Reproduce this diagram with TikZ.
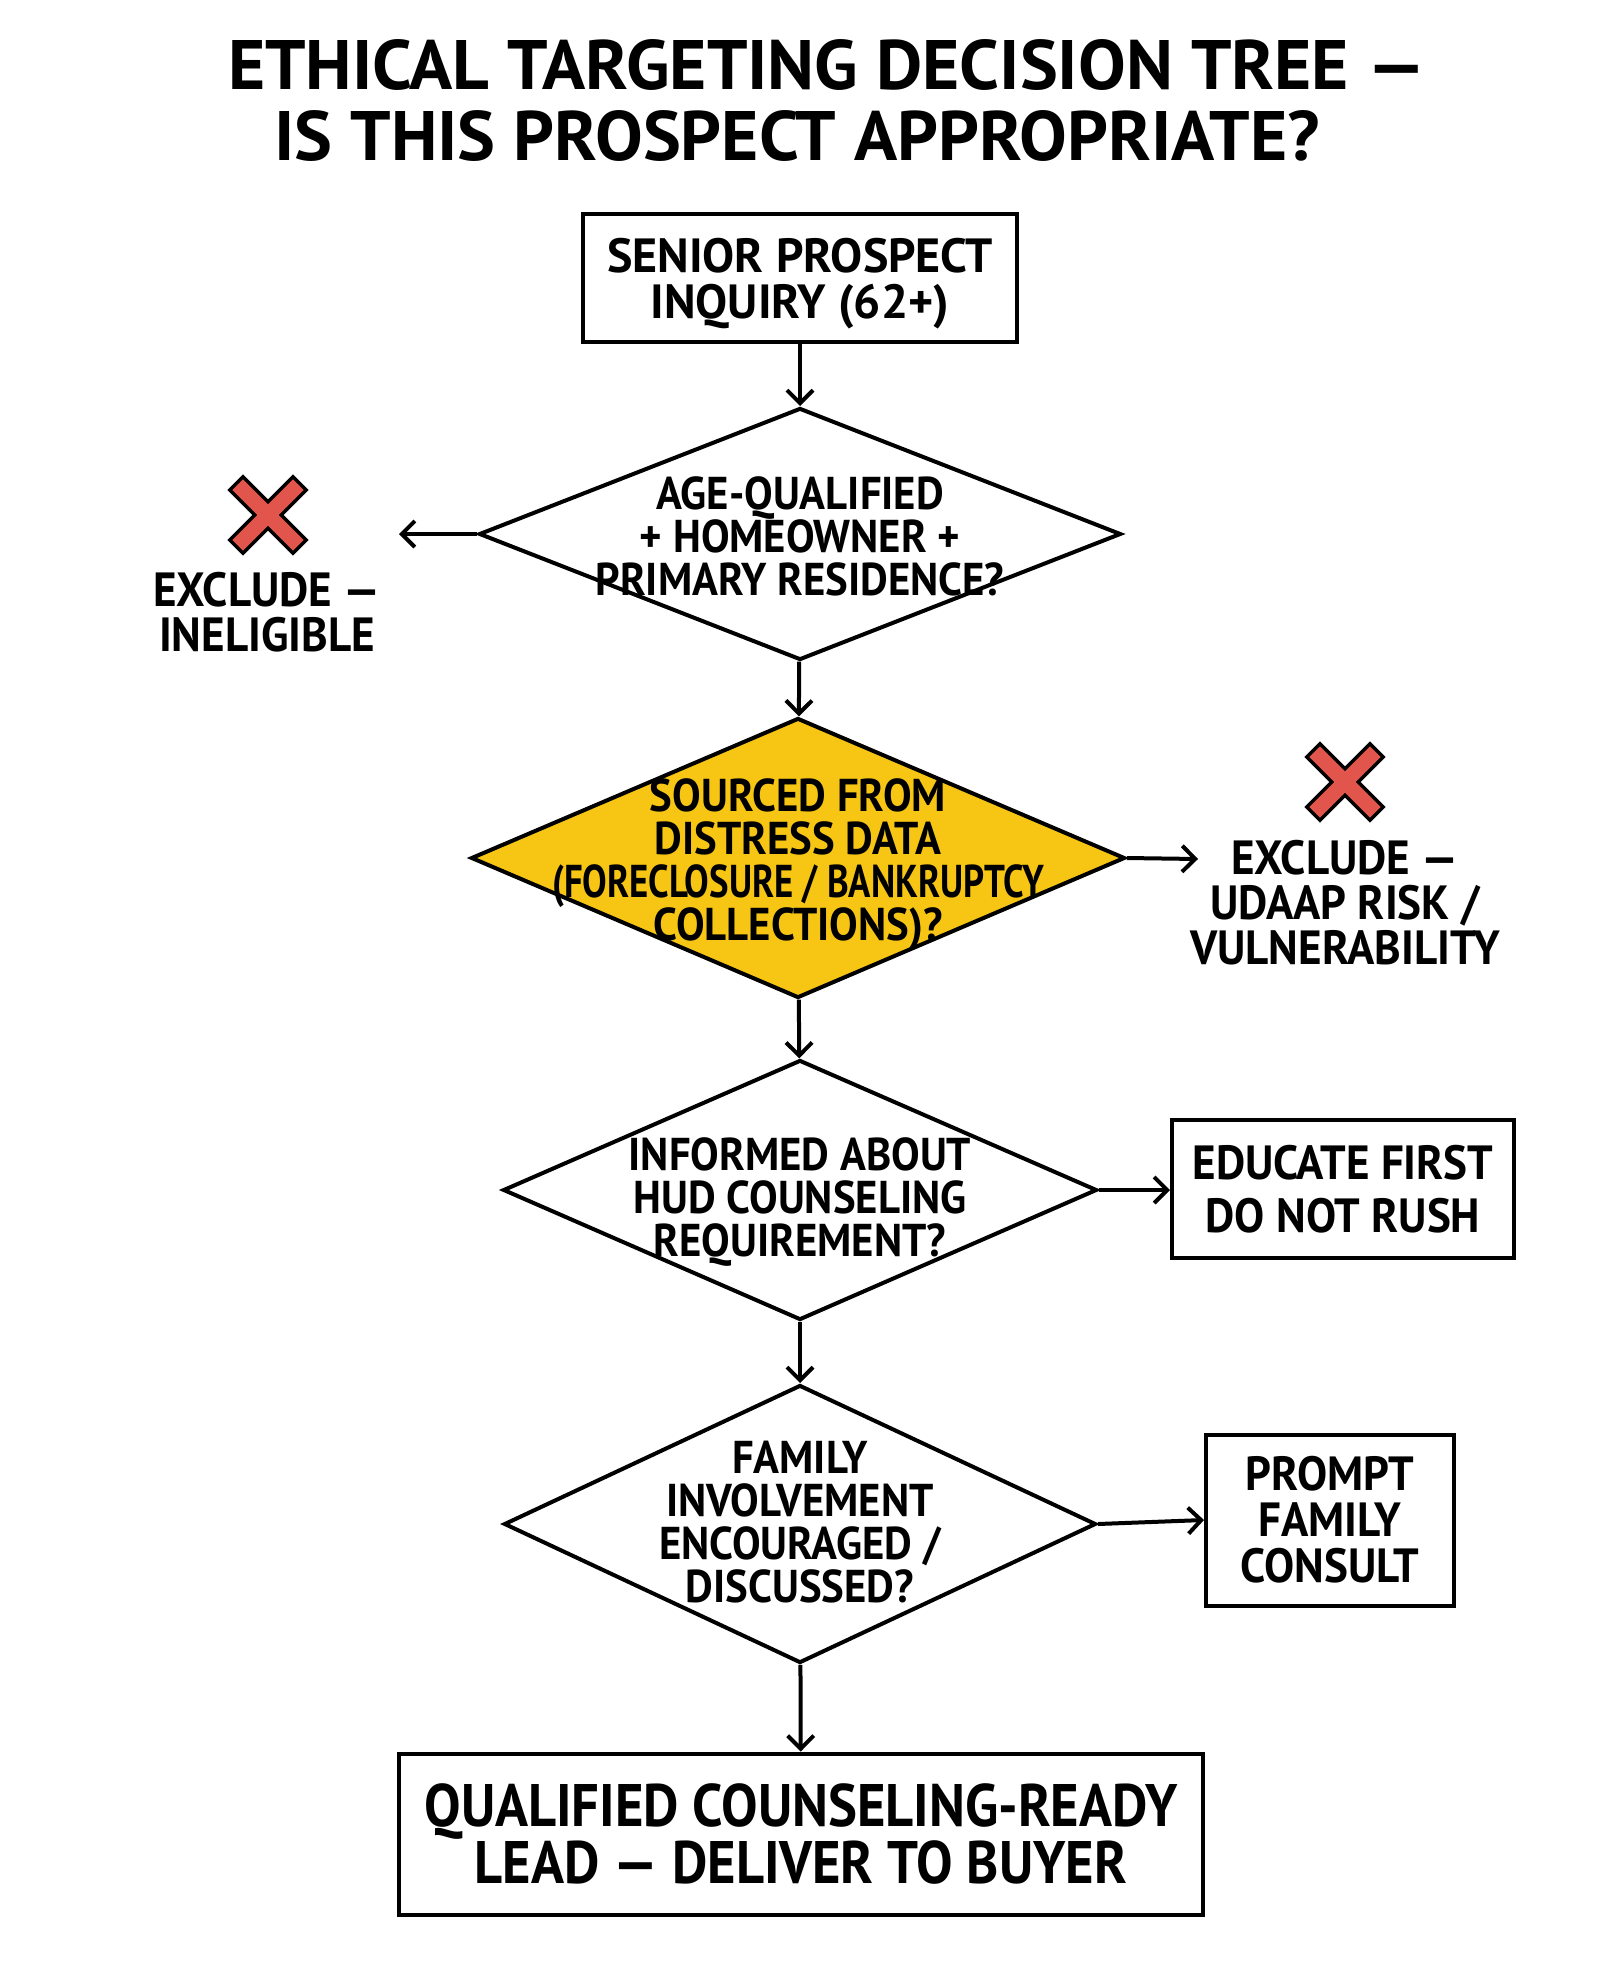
\documentclass[tikz,border=0pt]{standalone}
\usepackage{fontspec}
\setmainfont{PT Sans}
\newfontfamily\bodyfont{PT Sans}[FakeStretch=0.94]
\newfontfamily\finfont{PT Sans}[FakeStretch=0.91]
\newfontfamily\widefont{PT Sans}[FakeStretch=1.0]
\newfontfamily\diafont{PT Sans}[FakeStretch=0.93]
\newfontfamily\narrowfont{PT Sans}[FakeStretch=0.8]
\newfontfamily\titlefont{PT Sans}[FakeStretch=1.02]
\usetikzlibrary{shapes.geometric,arrows.meta}
\definecolor{gold}{HTML}{F7C614}
\definecolor{xred}{HTML}{E2554C}
\tikzset{
  lw/.style={line width=2pt},
  arr/.style={lw, -{Straight Barb[length=6.5pt,width=13pt,line width=2pt]}},
  box/.style={draw, lw, rectangle, inner sep=0pt, align=center,
              font=\bodyfont\bfseries\fontsize{24}{23}\selectfont},
  dia/.style={draw, lw, diamond, inner sep=0pt, fill=white},
  dtext/.style={align=center, inner sep=0pt,
              font=\diafont\bfseries\fontsize{23}{21.5}\selectfont},
  lab/.style={align=center, inner sep=0pt,
              font=\bodyfont\bfseries\fontsize{24}{22.5}\selectfont},
  ttl/.style={align=center, inner sep=0pt,
              font=\titlefont\bfseries\fontsize{35}{35.5}\selectfont},
  xmark/.pic={
    \draw[line width=11pt, line cap=rect, black] (-12.5,-12.5) -- (12.5,12.5) (-12.5,12.5) -- (12.5,-12.5);
    \draw[line width=7.5pt, line cap=rect, xred] (-12.5,-12.5) -- (12.5,12.5) (-12.5,12.5) -- (12.5,-12.5);
  }
}
\begin{document}
\begin{tikzpicture}[x=1pt,y=-1pt]
\useasboundingbox[fill=white] (0,0) rectangle (800,993);

\node[ttl] (title) at (398.5,50) {\hspace*{30pt}ETHICAL TARGETING DECISION TREE —\\IS THIS PROSPECT APPROPRIATE?};

\node[box, minimum width=217pt, minimum height=64pt, text depth=0pt,
      font=\widefont\bfseries\fontsize{24}{23}\selectfont] (b1) at (400,139) {SENIOR PROSPECT\\INQUIRY (62+)};

\node[dia, minimum width=321pt, minimum height=126pt] (d1) at (400,267) {};
\node[dtext] (d1t) at (400,268) {AGE-QUALIFIED\\+ HOMEOWNER +\\PRIMARY RESIDENCE?};

\node[dia, fill=gold, minimum width=327pt, minimum height=140pt] (d2) at (399,429) {};
\node[dtext] (d2t) at (399,432.5) {SOURCED FROM\\DISTRESS DATA\\{\narrowfont\bfseries (FORECLOSURE / BANKRUPTCY}\\COLLECTIONS)?};

\node[dia, minimum width=297pt, minimum height=130pt] (d3) at (400,595) {};
\node[dtext] (d3t) at (400,601) {INFORMED ABOUT\\HUD COUNSELING\\REQUIREMENT?};

\node[dia, minimum width=296pt, minimum height=139pt] (d4) at (400,762) {};
\node[dtext] (d4t) at (400,761) {FAMILY\\INVOLVEMENT\\ENCOURAGED /\\DISCUSSED?};

\node[box, minimum width=171pt, minimum height=69pt,
      font=\bodyfont\bfseries\fontsize{24}{26.5}\selectfont] (b3) at (671.5,594.5) {EDUCATE FIRST\\DO NOT RUSH};
\node[box, minimum width=124pt, minimum height=85.5pt] (b4) at (665,760) {PROMPT\\FAMILY\\CONSULT};
\node[box, minimum width=402pt, minimum height=80.5pt,
      font=\finfont\bfseries\fontsize{30}{28.5}\selectfont] (fin) at (400.5,917)
      {QUALIFIED COUNSELING-READY\\LEAD — DELIVER TO BUYER};

\pic at (134,257.5) {xmark};
\node[lab] (ex1) at (133.5,306) {EXCLUDE —\\INELIGIBLE};
\coordinate (e1) at (199.5,267);

\pic at (672.5,391) {xmark};
\node[lab] (ex2) at (672.5,451.5) {EXCLUDE —\\UDAAP RISK /\\VULNERABILITY};
\coordinate (e2) at (599,429.5);

\draw[arr] (b1) -- (d1);
\draw[arr] (d1.west) -- (e1);
\draw[arr] (d1) -- (d2);
\draw[arr] (d2.east) -- (e2);
\draw[arr] (d2) -- (d3);
\draw[arr] (d3.east) -- (b3.west |- d3.east);
\draw[arr] (d3) -- (d4);
\draw[arr] (d4.east) -- (b4.west);
\draw[arr] (d4) -- (fin);
\end{tikzpicture}
\end{document}
